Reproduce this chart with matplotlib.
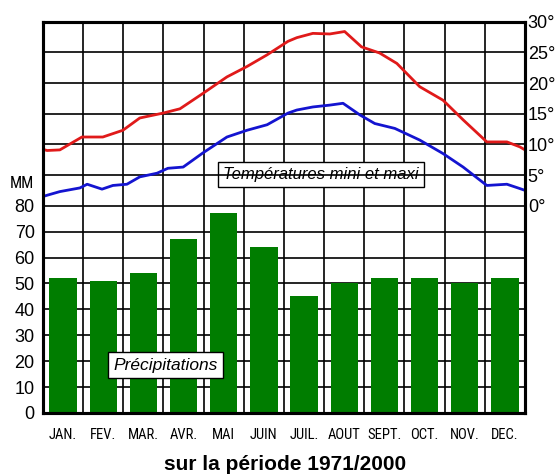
import matplotlib
matplotlib.use('Agg')
import matplotlib.pyplot as plt
from matplotlib import font_manager

months = ["JAN.", "FEV.", "MAR.", "AVR.", "MAI", "JUIN", "JUIL.", "AOUT", "SEPT.", "OCT.", "NOV.", "DEC."]
precip = [52, 51, 54, 67, 77, 64, 45, 50, 52, 52, 50, 52]

# temperature curves, x in months (0 = 1st Jan, 12 = 31 Dec)
tmax_x = [0.0, 0.10, 0.42, 0.97, 1.49, 1.99, 2.41, 2.99, 3.41, 3.98, 4.58, 5.08, 5.58, 6.10, 6.32, 6.72,
          7.14, 7.51, 7.93, 8.38, 8.81, 9.38, 9.96, 10.46, 11.05, 11.55, 11.87, 12.0]
tmax = [9.2, 9.0, 9.1, 11.2, 11.2, 12.3, 14.3, 15.1, 15.8, 18.3, 21.0, 22.7, 24.6, 26.8, 27.4, 28.1,
        28.0, 28.4, 25.9, 24.9, 23.2, 19.4, 17.2, 14.0, 10.4, 10.4, 9.6, 9.1]
tmin_x = [0.0, 0.10, 0.42, 0.92, 1.10, 1.47, 1.74, 2.09, 2.41, 2.84, 3.11, 3.49, 3.98, 4.58, 5.08, 5.58,
          6.10, 6.32, 6.72, 7.14, 7.47, 7.89, 8.26, 8.76, 9.38, 9.96, 10.46, 11.05, 11.55, 11.87, 12.0]
tmin = [1.5, 1.7, 2.3, 2.9, 3.5, 2.7, 3.3, 3.5, 4.7, 5.3, 6.1, 6.3, 8.6, 11.2, 12.3, 13.2,
        15.1, 15.6, 16.1, 16.4, 16.7, 14.8, 13.4, 12.6, 10.7, 8.5, 6.3, 3.3, 3.5, 2.8, 2.5]

mm_ticks = [0, 10, 20, 30, 40, 50, 60, 70, 80]
deg_ticks = [0, 5, 10, 15, 20, 25, 30]

# narrow font for month names if we have one
names = {f.name for f in font_manager.fontManager.ttflist}
narrow = None
for cand in ['Liberation Sans Narrow', 'Arial Narrow', 'Roboto Condensed', 'Open Sans Condensed',
             'DejaVu Sans Condensed']:
    if cand in names:
        narrow = cand
        break
if narrow is None:
    narrow = 'Liberation Sans'
    month_size = 8.8
else:
    month_size = 10.5

fig = plt.figure(figsize=(5.56, 4.74), dpi=100)
ax = fig.add_axes([0.0773, 0.1287, 0.8669, 0.8255])
ax2 = ax.twinx()

ax.set_xlim(0, 12)
ax.set_ylim(0, 151)
ax2.set_ylim(-33.8, 30)

# grid
for i in range(1, 12):
    ax.axvline(i, color='black', lw=1.2, zorder=1)
for v in mm_ticks[1:]:
    ax.axhline(v, color='black', lw=1.2, zorder=1)
for v in deg_ticks[1:-1]:
    ax2.axhline(v, color='black', lw=1.2, zorder=1)

ax.bar([i + 0.5 for i in range(12)], precip, width=0.68, color='#007d00', zorder=3)

ax2.plot(tmax_x, tmax, color='#e01a1a', lw=2.0, zorder=4)
ax2.plot(tmin_x, tmin, color='#1414d0', lw=2.0, zorder=4)

ax.set_yticks(mm_ticks)
ax.set_yticklabels([str(v) for v in mm_ticks], fontsize=13, family='Liberation Sans')
ax.tick_params(axis='y', length=0, pad=6)
ax2.set_yticks(deg_ticks)
ax2.set_yticklabels([str(v) + "°" for v in deg_ticks], fontsize=13, family='Liberation Sans')
ax2.tick_params(axis='y', length=0, pad=2)

ax.set_xticks([i + 0.5 for i in range(12)])
ax.set_xticklabels(months, fontsize=month_size, family=narrow)
ax.tick_params(axis='x', length=0, pad=11)

for a in (ax, ax2):
    for s in a.spines.values():
        s.set_linewidth(2.2)
        s.set_color('black')
        s.set_zorder(6)

ax.text(-0.52, 88.5, "MM", fontsize=11.5, family=narrow, ha='center', va='center')

box = dict(boxstyle='square,pad=0.3', facecolor='white', edgecolor='black', lw=1.0)
ax.text(3.06, 18.5, "Précipitations", fontsize=12.5, style='italic', family='Liberation Sans',
        ha='center', va='center', bbox=box, zorder=7)
ax.text(6.92, 92.2, "Températures mini et maxi", fontsize=12, style='italic', family='Liberation Sans',
        ha='center', va='center', bbox=box, zorder=7)

fig.text(0.513, 0.008, "sur la période 1971/2000", fontsize=15, fontweight='bold',
         family='Liberation Sans', ha='center', va='baseline')

fig.savefig('out.png', dpi=100)
